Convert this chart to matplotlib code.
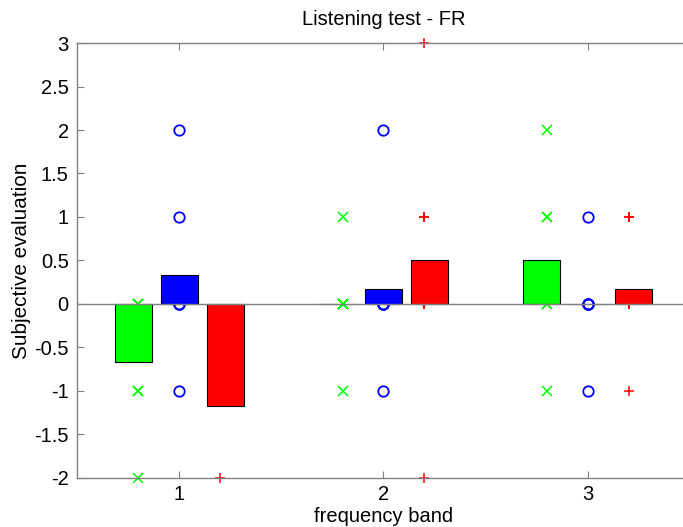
import numpy as np
import matplotlib.pyplot as plt

plt.rcParams['font.family'] = ['Liberation Sans', 'DejaVu Sans']

bands = [1, 2, 3]

# individual listener scores per band (6 listeners)
scores_green = [[0, 0, 0, -1, -1, -2], [1, 0, -1, 0, 0, 0], [2, 1, 0, -1, 1, 0]]
scores_blue = [[2, 1, 0, -1, 0, 0], [2, 0, -1, 0, 0, 0], [1, 0, -1, 0, 0, 0]]
scores_red = [[-2, -1, -1, -1, -1, -1], [3, 1, 0, -2, 1, 0], [1, 0, -1, 1, 0, 0]]

# mean score per band
mean_green = [-0.667, 0.0, 0.5]
mean_blue = [0.333, 0.167, 0.0]
mean_red = [-1.167, 0.5, 0.167]

fig = plt.figure(figsize=(6.83, 5.27), dpi=100)
ax = fig.add_axes([0.1127, 0.0930, 0.8975, 0.8254])

axcol = '#808080'
fs = 14.5
x = np.array(bands, dtype=float)
bw = 0.18
bar_off = 0.225
pt_off = 0.2

series = [
    (scores_green, mean_green, -1, '#00ff00', 'x'),
    (scores_blue, mean_blue, 0, '#0000ff', 'o'),
    (scores_red, mean_red, 1, '#ff0000', '+'),
]

for scores, means, k, col, mk in series:
    for i, band in enumerate(bands):
        xs = np.full(len(scores[i]), band + k * pt_off)
        if mk == 'o':
            ax.plot(xs, scores[i], linestyle='none', marker='o', ms=7.5,
                    mfc='none', mec=col, mew=1.3, zorder=2, clip_on=False)
        else:
            ax.plot(xs, scores[i], linestyle='none', marker=mk, ms=7,
                    color=col, mew=1.1, zorder=2, clip_on=False)
    ax.bar(x + k * bar_off, means, width=bw, color=col,
           edgecolor='black', linewidth=0.8, zorder=3)

ax.axhline(0, color=axcol, linewidth=1.0, zorder=4)

ax.set_xlim(0.5, 3.5)
ax.set_ylim(-2, 3)
ax.set_xticks(bands)
ax.set_yticks(np.arange(-2, 3.01, 0.5))
ax.set_yticklabels(['-2', '-1.5', '-1', '-0.5', '0', '0.5', '1', '1.5', '2', '2.5', '3'])

for s in ax.spines.values():
    s.set_color(axcol)
    s.set_linewidth(1.0)
ax.tick_params(direction='in', length=5, color=axcol, labelsize=fs,
               top=True, right=True, labelcolor='black')
ax.tick_params(axis='x', pad=5)
ax.tick_params(axis='y', pad=6)

ax.set_title('Listening test - FR', fontsize=fs, pad=13)
ax.set_xlabel('frequency band', fontsize=fs, labelpad=2)
ax.set_ylabel('Subjective evaluation', fontsize=fs * 1.03, labelpad=2)

fig.savefig('out.png', dpi=100)
